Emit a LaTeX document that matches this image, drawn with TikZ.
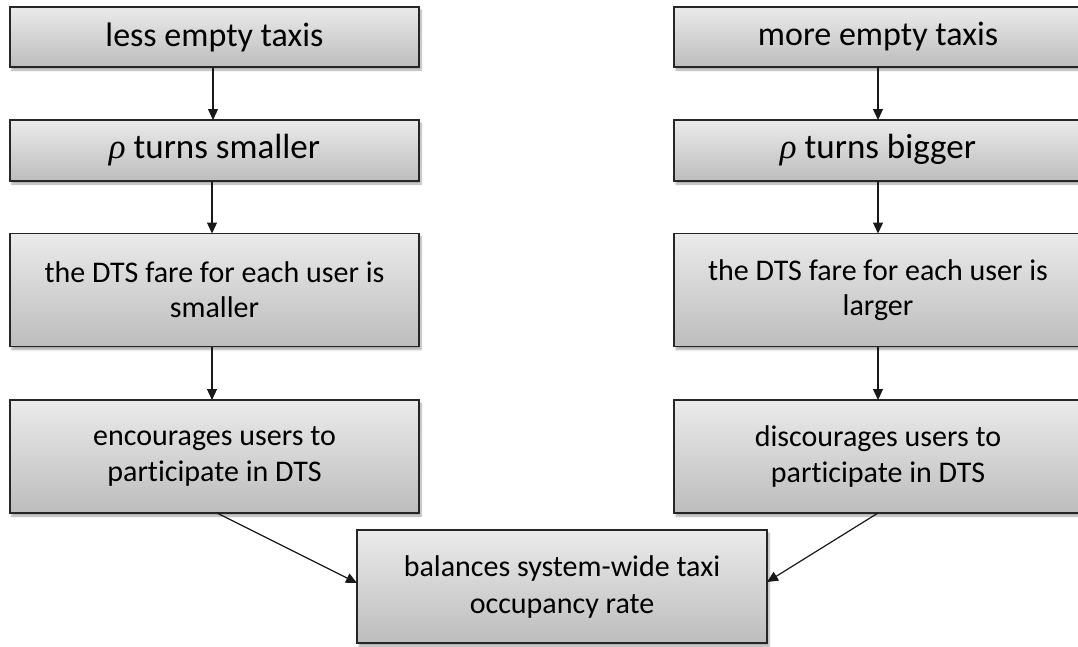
\documentclass[tikz,border=0pt]{standalone}
\usepackage{fontspec}
\setmainfont{Carlito}[Ligatures=NoCommon]
\newfontfamily\greekfont{Liberation Serif}
\newcommand{\rhosym}{{\greekfont\itshape ρ}}
\usetikzlibrary{arrows.meta,shadows.blur}

\tikzset{
  flowbox/.style={
    draw=black!85, line width=1.3pt,
    top color=black!8, bottom color=black!26,
    blur shadow={shadow xshift=2pt, shadow yshift=-3pt, shadow blur steps=6, shadow opacity=35},
    align=center, inner sep=0pt, outer sep=0pt,
    font=\fontsize{30}{36}\selectfont
  },
  flowarrow/.style={draw=black!90, line width=1.2pt,
    -{Triangle[length=11pt,width=10pt]}}
}

\begin{document}
\begin{tikzpicture}[x=1pt,y=-1pt]
  \useasboundingbox (0,0) rectangle (1078,646);

  % left chain
  \node[flowbox, minimum width=409pt, minimum height=60pt, font=\fontsize{34}{38}\selectfont]
    (l1) at (214.5,37) {less empty taxis};
  \node[flowbox, minimum width=409pt, minimum height=61pt, font=\fontsize{35}{38}\selectfont]
    (l2) at (214.5,150.5) {\rhosym\ turns smaller};
  \node[flowbox, minimum width=409pt, minimum height=113pt, font=\fontsize{30}{35}\selectfont]
    (l3) at (214.5,290) {the DTS fare for each user is\\smaller};
  \node[flowbox, minimum width=409pt, minimum height=113pt]
    (l4) at (214.5,456.5) {encourages users to\\participate in DTS};

  % right chain
  \node[flowbox, minimum width=408pt, minimum height=60pt, font=\fontsize{34}{38}\selectfont]
    (r1) at (878,37) {more empty taxis};
  \node[flowbox, minimum width=408pt, minimum height=61pt, font=\fontsize{35}{38}\selectfont]
    (r2) at (878,150.5) {\rhosym\ turns bigger};
  \node[flowbox, minimum width=408pt, minimum height=113pt, font=\fontsize{30}{35}\selectfont]
    (r3) at (878,290) {the DTS fare for each user is\\larger};
  \node[flowbox, minimum width=408pt, minimum height=113pt]
    (r4) at (878,456.5) {discourages users to\\participate in DTS};

  % common outcome
  \node[flowbox, minimum width=410pt, minimum height=113pt, font=\fontsize{30}{37}\selectfont]
    (b) at (562,586.5) {balances system-wide taxi\\occupancy rate};

  % connectors
  \draw[flowarrow] (l1.south -| 213,0) -- (l2.north -| 213,0);
  \draw[flowarrow] (l2.south -| 212,0) -- (l3.north -| 212,0);
  \draw[flowarrow] (l3.south -| 212,0) -- (l4.north -| 212,0);
  \draw[flowarrow] (r1) -- (r2);
  \draw[flowarrow] (r2) -- (r3);
  \draw[flowarrow] (r3) -- (r4);
  \draw[flowarrow] (l4.south -| 217,0) -- (b.west |- 0,583);
  \draw[flowarrow] (r4.south) -- (b.east |- 0,582);
\end{tikzpicture}
\end{document}
